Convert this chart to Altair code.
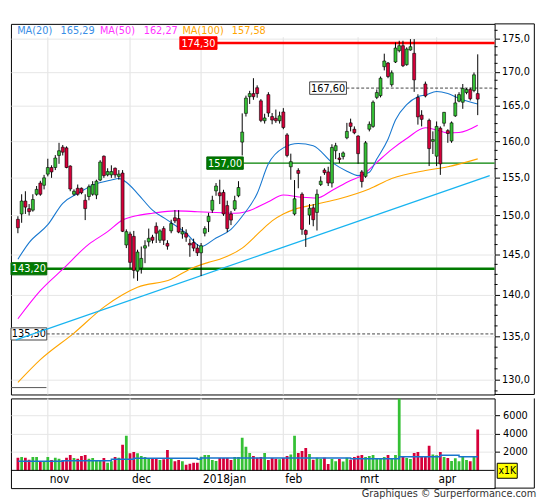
import altair as alt
import pandas as pd

# ---------------- data (trading-day index 0 = 19 Oct 2017) ----------------
opens = [149.5,150.2,151.9,150.9,150.7,152.8,154.3,154.0,155.5,156.4,
         156.4,158.05,159.2,159.1,156.6,152.8,153.6,153.6,152.0,152.5,
         152.8,152.7,154.7,157.95,155.4,155.4,156.3,155.2,155.65,146.2,
         147.6,147.3,142.9,143.3,145.8,146.6,147.2,148.6,146.8,148.3,
         146.4,148.0,149.7,149.6,147.6,147.7,146.4,146.5,145.8,145.2,
         147.7,149.2,150.7,153.25,153.0,153.05,151.3,150.2,150.85,152.6,
         159.9,163.95,166.35,166.8,167.65,165.75,162.9,166.65,163.5,163.25,
         162.9,164.15,160.9,156.5,150.2,156.0,152.8,148.05,150.05,151.0,
         150.4,154.1,156.05,155.8,154.3,158.7,157.7,157.9,160.5,162.6,
         161.7,160.75,155.8,155.2,161.7,162.1,166.25,166.5,170.75,171.3,
         168.1,171.45,173.15,173.9,171.05,173.25,172.75,166.25,163.7,168.2,
         162.95,160.0,157.95,161.85,162.55,161.5,160.05,163.6,165.7,165.55,
         166.95,167.4,167.25,166.8]
highs = [149.9,152.8,153.2,151.5,152.8,153.9,154.6,155.4,157.6,156.7,
         158.1,159.8,159.5,159.3,156.7,153.45,154.1,153.7,152.8,154.1,
         154.55,154.75,157.4,158.05,156.3,156.7,156.4,156.05,156.05,148.2,
         147.9,148.0,145.6,146.0,146.8,148.3,147.5,149.1,148.2,148.6,
         146.8,149.45,150.7,150.7,148.5,148.2,147.0,147.0,146.3,146.45,
         148.6,150.35,152.6,154.3,154.75,153.4,151.95,150.6,152.6,154.55,
         163.95,166.5,167.2,169.05,168.0,166.0,163.9,167.0,164.0,164.5,
         164.2,164.7,161.15,158.3,154.7,156.3,153.05,148.2,151.5,151.5,
         153.45,155.2,156.3,156.5,159.6,159.8,158.4,158.6,162.6,163.2,
         162.1,160.85,156.05,160.05,162.8,165.8,167.4,169.3,172.7,171.45,
         170.2,174.4,174.65,174.65,173.65,174.9,174.9,166.7,164.4,168.55,
         163.2,161.4,162.8,162.1,164.15,161.7,162.8,166.7,167.0,168.2,
         167.6,167.65,169.9,172.6]
lows = [147.7,149.05,150.2,150.0,150.5,152.6,152.6,153.45,155.2,155.0,
        156.05,156.9,158.05,156.3,153.2,152.6,152.6,152.8,149.4,152.0,
        152.6,152.15,154.55,155.0,155.2,155.0,155.0,154.75,147.85,145.8,
        143.2,142.0,141.7,142.6,143.9,146.0,146.4,146.45,146.45,146.2,
        145.6,147.7,149.0,147.7,147.0,146.6,144.7,145.4,144.8,142.3,
        147.3,147.85,150.35,152.6,151.5,149.95,147.85,148.75,150.6,152.4,
        158.05,163.5,165.3,165.9,166.2,162.7,162.5,163.45,162.4,162.6,
        162.5,161.7,157.8,154.75,150.0,153.6,147.5,145.95,148.8,148.6,
        148.05,153.9,155.4,153.9,153.7,157.55,157.0,157.5,160.3,161.4,
        161.0,156.9,153.7,155.0,161.4,161.9,166.0,166.25,170.2,169.05,
        167.8,171.3,172.9,170.7,170.9,173.15,167.05,162.35,162.1,166.25,
        156.6,158.25,156.6,155.4,162.1,159.8,159.8,163.45,165.55,164.6,
        166.7,165.8,167.0,163.7]
closes = [148.4,151.9,151.1,150.5,152.1,153.45,152.8,155.0,156.4,155.8,
          157.7,158.7,158.5,156.4,153.5,153.2,152.8,153.0,150.9,153.8,
          154.1,154.55,157.15,155.3,155.85,155.85,155.4,155.5,147.95,147.9,
          144.0,143.0,145.3,144.5,146.1,147.05,146.8,147.7,148.0,146.8,
          146.05,148.95,149.3,147.85,147.9,147.2,146.2,145.8,145.2,146.1,
          148.3,149.9,152.0,153.9,152.6,150.2,148.3,149.4,151.95,153.7,
          161.3,166.15,166.8,166.35,166.8,162.95,163.3,164.0,163.0,162.9,
          163.6,161.95,158.05,157.2,152.2,155.6,148.2,147.55,150.95,149.45,
          152.8,154.55,155.7,154.3,159.15,159.4,157.5,158.4,161.4,162.1,
          161.2,158.3,154.5,159.8,162.4,165.55,166.95,169.05,171.6,169.3,
          169.85,173.55,173.9,170.9,173.4,173.75,168.8,163.45,163.1,166.45,
          159.0,160.25,162.1,156.9,164.1,161.1,162.6,165.45,166.65,167.55,
          167.4,166.05,169.55,166.0]
volumes = [1380,1450,1380,1160,1450,1450,980,980,1450,1130,
           1380,1270,1130,1380,1670,1350,1270,1560,1670,1270,
           1350,1050,1050,1350,840,980,1450,1380,2770,3750,
           1860,2000,1860,1560,1450,1350,1350,1270,1130,1200,
           2220,1350,980,1130,980,620,730,840,840,1490,
           1670,1670,1130,1020,1350,1350,1350,1130,1450,1450,
           3530,2550,1890,1560,1380,1450,1890,1130,1350,1270,
           1200,1350,1560,1710,3750,1890,2110,2440,1780,1160,
           1380,1270,1380,690,1240,980,1240,950,1380,1160,
           1450,1600,1670,1450,1560,1670,1310,1310,1450,1670,
           1350,1670,7800,1560,1350,1240,1890,2000,1560,1560,
           2660,1710,1640,2000,1450,1350,1020,1310,980,1450,
           1130,980,1450,4440]

ma20_idx = [0,3,8,12,16,20,25,27,29,32,36,40,45,49,53,57,60,64,67,71,75,79,84,88,91,94,96,99,101,104,107,109,112,115,118,123]
ma20_val = [144.4,146.5,148.8,151.6,152.9,154.0,154.7,154.9,154.4,152.9,150.7,149.4,147.7,146.0,147.1,148.2,149.9,152.9,156.9,159.1,159.7,159.4,157.1,155.9,155.3,155.75,157.55,160.3,163.0,165.2,166.35,166.6,167.1,166.8,166.1,165.29]
ma50_idx = [0,6,12,19,24,28,32,36,42,48,53,58,61,67,71,76,80,84,89,92,96,100,104,109,112,115,118,123]
ma50_val = [137.1,140.5,143.15,146.3,147.9,149.4,150.0,150.3,150.6,150.5,150.4,150.3,150.5,151.8,152.7,152.4,152.3,153.3,154.65,155.3,157.1,158.9,160.4,161.9,161.6,161.2,161.25,162.27]
ma100_idx = [0,6,15,23,28,32,41,46,51,54,60,65,68,71,74,80,86,94,100,109,115,123]
ma100_val = [129.7,132.3,135.4,138.5,140.0,140.9,141.9,143.15,144.0,144.4,145.8,148.0,149.3,150.2,150.8,151.5,152.2,153.5,154.9,156.0,156.5,157.58]
trend_idx = [-0.54, 126.2]
trend_val = [134.6, 155.3]
volma_idx = [0,12,25,31,48,49,89,102,113,118,123]
volma_val = [980,1050,1200,1310,1200,1350,1270,1490,1640,1490,1490]

month_idx = [8, 30, 49, 71, 91, 112]
month_lbl = ["nov", "dec", "2018jan", "feb", "mrt", "apr"]
price_ticks = [130, 135, 140, 145, 150, 155, 160, 165, 170, 175]
minor_ticks = [128.75, 131.25, 132.5, 133.75, 136.25, 137.5, 138.75, 141.25, 142.5, 143.75,
               146.25, 147.5, 148.75, 151.25, 152.5, 153.75, 156.25, 157.5, 158.75, 161.25,
               162.5, 163.75, 166.25, 167.5, 168.75, 171.25, 172.5, 173.75, 176.25]
vol_ticks = [2000, 4000, 6000]
levels = [174.30, 157.00, 143.20, 135.30, 167.60]
level_txt = ["174,30", "157,00", "143,20", "135,30", "167,60"]
legend_txt = ["MA(20)", "165,29", "MA(50)", "162,27", "MA(100)", "157,58"]

# ---------------- styles ----------------
FONT = "DejaVu Sans Condensed, DejaVu Sans, sans-serif"
GREEN = "#35c035"
RED = "#d6003a"
W = 490.7
HM = 376
HV = 91
BASE_PX = 73
OUTER = 531
BOX = "M-1,-0.34L1,-0.34L1,0.34L-1,0.34Z"

level_style = [
    dict(cx=190.2, w=37.7, fill="#ff0000", stroke="#ff0000", tc="white", lc="#ff0000", lw=2.5, dash=None),
    dict(cx=217.2, w=37.0, fill="#007a00", stroke="#006400", tc="white", lc="#008000", lw=1.5, dash=None),
    dict(cx=18.2, w=36.3, fill="#007a00", stroke="#006400", tc="white", lc="#007a00", lw=2.5, dash=None),
    dict(cx=18.2, w=36.3, fill="white", stroke="#444444", tc="black", lc="#444444", lw=1, dash=[3, 2]),
    dict(cx=321.7, w=37.3, fill="white", stroke="#444444", tc="black", lc="#444444", lw=1, dash=[3, 2]),
]
legend_x = [6.3, 50.3, 90.3, 134.7, 174.0, 224.0]
legend_col = ["#3a8ee6", "#3a8ee6", "#ff33ff", "#ff33ff", "#ffa500", "#ffa500"]

xscale = alt.Scale(domain=[-0.54, 126.2], nice=False, zero=False)
pscale = alt.Scale(type="log", domain=[128.35, 177.24], nice=False, zero=False)
vscale = alt.Scale(domain=[-1925, 7807], nice=False, zero=False)
p_axis = alt.Axis(orient="right", values=price_ticks,
                  labelExpr="replace(format(datum.value, '.1f'), '.', ',')",
                  tickSize=5, labelPadding=2, domain=False, grid=True,
                  gridColor="#e6e6e6", tickColor="black", labelColor="black",
                  labelFontSize=11, labelFont=FONT, title=None)
v_axis = alt.Axis(orient="right", values=vol_ticks, format="d",
                  tickSize=5, labelPadding=3, domain=False, grid=True,
                  gridColor="#e6e6e6", tickColor="black", labelColor="black",
                  labelFontSize=11, labelFont=FONT, title=None)


def X(f):
    return alt.X(f, type="quantitative", scale=xscale, axis=None)


def P(f):
    return alt.Y(f, type="quantitative", scale=pscale, axis=p_axis)


def V(f):
    return alt.Y(f, type="quantitative", scale=vscale, axis=v_axis)


def one(**kw):
    return pd.DataFrame({k: [v] for k, v in kw.items()})


n = len(opens)
df = pd.DataFrame({"i": list(range(n)), "o": opens, "h": highs, "l": lows,
                   "c": closes, "v": volumes})
df["col"] = [GREEN if c >= o else RED for o, c in zip(opens, closes)]
df["zero"] = 0

months = pd.DataFrame({"i": month_idx, "lbl": month_lbl})

# ---------------- main panel ----------------
L = []
L.append(alt.Chart(months).mark_rule(color="#e6e6e6", strokeWidth=1.2).encode(
    x=X("i"), y=alt.value(13.5), y2=alt.value(HM)))

for p, t, s in zip(levels, level_txt, level_style):
    d = one(p=p, t=t)
    kw = dict(color=s["lc"], strokeWidth=s["lw"])
    if s["dash"]:
        kw["strokeDash"] = s["dash"]
    L.append(alt.Chart(d).mark_rule(**kw).encode(
        x=alt.value(s["cx"] + s["w"] / 2), x2=alt.value(W), y=P("p")))
    L.append(alt.Chart(d).mark_point(shape=BOX, size=s["w"] ** 2, filled=True,
                                     fill=s["fill"], stroke=s["stroke"],
                                     strokeWidth=1, opacity=1).encode(
        x=alt.value(s["cx"]), y=P("p")))
    L.append(alt.Chart(d).mark_text(font=FONT, fontSize=11, color=s["tc"],
                                    baseline="middle", align="center", dy=0.5).encode(
        x=alt.value(s["cx"]), y=P("p"), text="t:N"))

for idxs, vals, col, sw in [(ma100_idx, ma100_val, "#ffa500", 1.1),
                            (ma50_idx, ma50_val, "#ff00ff", 1.1),
                            (ma20_idx, ma20_val, "#1878d0", 1.1),
                            (trend_idx, trend_val, "#18b4f0", 1.3)]:
    d = pd.DataFrame({"i": idxs, "v": vals})
    L.append(alt.Chart(d).mark_line(color=col, strokeWidth=sw, interpolate="monotone",
                                    clip=True).encode(x=X("i"), y=P("v")))

L.append(alt.Chart(df).mark_rule(color="black", strokeWidth=1).encode(
    x=X("i"), y=P("l"), y2="h"))
L.append(alt.Chart(df).mark_bar(size=3, stroke="black", strokeWidth=0.6).encode(
    x=X("i"), y=P("o"), y2="c", fill=alt.Fill("col:N", scale=None)))

L.append(alt.Chart(pd.DataFrame({"t": minor_ticks})).mark_rule(color="black").encode(
    x=alt.value(W), x2=alt.value(W + 3), y=P("t")))

for t, x, c in zip(legend_txt, legend_x, legend_col):
    L.append(alt.Chart(one(t=t)).mark_text(font=FONT, fontSize=11, color=c,
                                           align="left", baseline="middle").encode(
        x=alt.value(x), y=alt.value(7.2), text="t:N"))

frame = one(k=0)
L.append(alt.Chart(frame).mark_rule(color="black").encode(
    x=alt.value(OUTER), y=alt.value(0), y2=alt.value(HM)))
L.append(alt.Chart(frame).mark_rule(color="black").encode(
    x=alt.value(W), x2=alt.value(OUTER), y=alt.value(0)))
L.append(alt.Chart(frame).mark_rule(color="black").encode(
    x=alt.value(W), x2=alt.value(OUTER), y=alt.value(HM)))
L.append(alt.Chart(frame).mark_rule(color="#555555").encode(
    x=alt.value(0), x2=alt.value(36), y=alt.value(369)))

main = alt.layer(*L).properties(width=W, height=HM)

# ---------------- volume panel ----------------
VL = []
VL.append(alt.Chart(months).mark_rule(color="#e6e6e6", strokeWidth=1.2).encode(
    x=X("i"), y=alt.value(0), y2=alt.value(BASE_PX)))
VL.append(alt.Chart(df).mark_bar(size=2.8, clip=True).encode(
    x=X("i"), y=V("v"), y2="zero", color=alt.Color("col:N", scale=None)))
VL.append(alt.Chart(pd.DataFrame({"i": volma_idx, "v": volma_val})).mark_line(
    color="#1874cd", strokeWidth=1.5, interpolate="step-after").encode(x=X("i"), y=V("v")))
VL.append(alt.Chart(one(zero=0)).mark_rule(color="black").encode(
    x=alt.value(0), x2=alt.value(W), y=V("zero")))
VL.append(alt.Chart(months).mark_text(font=FONT, fontSize=12, color="black",
                                      align="left", baseline="middle", dx=2).encode(
    x=X("i"), y=alt.value(82), text="lbl:N"))
VL.append(alt.Chart(frame).mark_point(shape="M-1,-0.75L1,-0.75L1,0.75L-1,0.75Z", size=412,
                                      filled=True, fill="#ffff00", stroke="black",
                                      strokeWidth=1, opacity=1).encode(
    x=alt.value(503.5), y=alt.value(73.4)))
VL.append(alt.Chart(one(t="x1K")).mark_text(font=FONT, fontSize=10.5, color="black",
                                            align="center", baseline="middle", dy=0.5).encode(
    x=alt.value(503.5), y=alt.value(73.4), text="t:N"))
VL.append(alt.Chart(frame).mark_rule(color="black").encode(
    x=alt.value(OUTER), y=alt.value(0), y2=alt.value(HV)))
VL.append(alt.Chart(frame).mark_rule(color="black").encode(
    x=alt.value(W), x2=alt.value(OUTER), y=alt.value(HV)))
VL.append(alt.Chart(one(t="Graphiques \u00a9 Surperformance.com")).mark_text(
    font=FONT, fontSize=11, color="#333333", align="right", baseline="middle").encode(
    x=alt.value(533), y=alt.value(97.5), text="t:N"))

vol = alt.layer(*VL).properties(width=W, height=HV)

chart = alt.vconcat(main, vol, spacing=0).properties(
    padding={"left": 0, "top": 11.5, "right": 0, "bottom": 0}
).configure_view(stroke="black", strokeWidth=1).configure_axis(
    labelFont=FONT, labelFontSize=11, labelColor="black")

chart.save("out.html", embed_options={"renderer": "svg", "actions": False})
